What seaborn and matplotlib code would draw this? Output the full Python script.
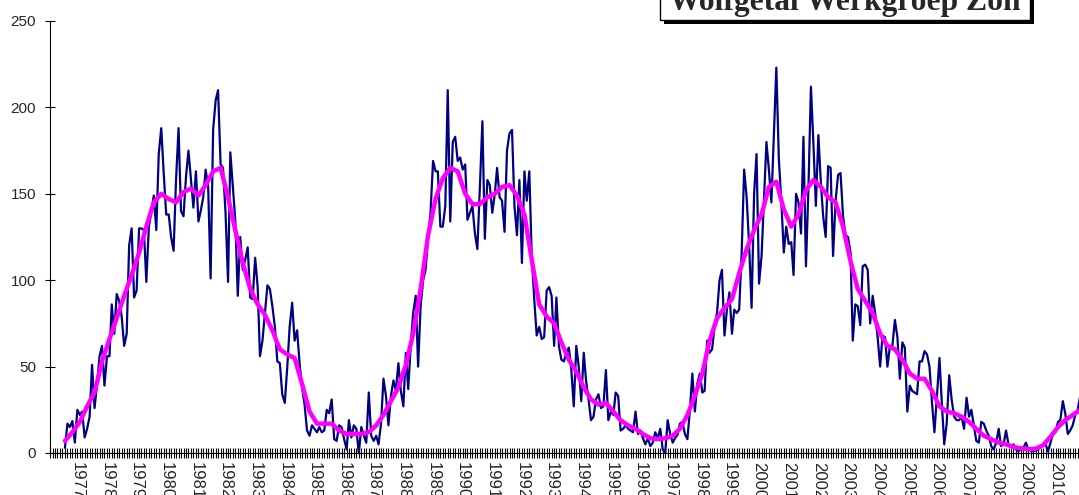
import numpy as np
import pandas as pd
import matplotlib.pyplot as plt
import matplotlib.dates as mdates
from matplotlib.patches import Rectangle
import seaborn as sns

# monthly Wolf numbers, Aug 1976 .. Nov 2010
wolf = [
    3, 17, 15, 18.5, 6, 25, 22, 24, 9, 14, 21, 51, 26, 40, 56, 62, 39, 56, 56, 86,
    69, 92, 88, 79, 62, 69, 120, 130, 90, 94, 130, 130, 129, 99, 131, 139, 149, 129, 173, 188,
    162, 138, 138, 125, 117, 158, 188, 140, 137, 160, 175, 158, 142, 163, 134, 140, 148, 164, 154, 101,
    187, 204, 210, 167, 165, 139,
    99, 174, 154, 135, 91, 125, 106, 112, 119, 90, 89, 113, 96, 56, 65, 81, 97, 95, 85, 73,
    53, 52, 34, 29, 50, 73, 87, 65, 71, 52, 38, 28, 13, 10, 16, 14, 12, 15, 12, 13,
    25, 23, 31, 8, 7, 16, 15, 8, 2, 19, 9, 16, 14, 0, 15, 10, 6, 35, 10, 7,
    10, 5, 17, 43, 33, 16, 33, 42, 36, 52, 36, 27,
    58, 37, 62, 81, 91, 50, 85, 100, 106, 125, 139, 169, 163, 163, 131, 131, 143, 210, 134, 180,
    183, 169, 171, 164, 167, 135, 139, 143, 127, 118, 154, 192, 124, 158, 155, 139, 150, 165, 148, 146,
    128, 175, 185, 187, 143, 126, 158, 110, 163, 146, 163, 114, 89, 68, 73, 66, 67, 94, 96, 91,
    62, 90, 62, 54, 53, 58, 61, 48, 27, 62, 50,
    30, 58, 42, 31, 19, 21, 31, 34, 26, 27, 48, 19, 24, 22, 35, 33, 13, 14, 16, 14,
    13, 12, 24, 11, 13, 8.5, 5, 8.5, 4, 6, 12, 8.5, 14, 2, 0, 19, 11, 6, 8.5, 10.5,
    17, 18, 11, 8, 25, 46, 24, 40, 46, 35, 36, 65, 58, 60, 73, 81, 100, 106, 68, 83,
    93, 69, 83, 81, 83, 116, 164, 148, 120, 84, 150,
    173, 98, 114, 146, 180, 164, 145, 183, 223, 170, 146, 116, 131, 121, 122, 103, 150, 145, 127, 183,
    108, 154, 212, 179, 143, 184, 156, 137, 125, 166, 165, 114, 146, 161, 162, 137, 126, 125, 116, 65,
    86, 85, 74, 108, 109, 106, 75, 91, 81, 67, 50, 68, 67, 50, 62, 62, 77, 67, 43, 64,
    61, 24, 39, 36, 35, 34, 53, 53, 59, 57,
    50, 29, 12, 33, 55, 30, 5, 17, 45, 31, 21, 19, 19, 21, 14, 32, 21, 25, 16, 7,
    6, 18, 17, 13, 10, 4, 2, 6, 14, 4, 5, 13, 5, 4, 5, 2, 1, 2, 3, 6,
    2, 1.4, 1, 1.4, 2, 4, 5, 5, 1, 6, 11, 12, 18, 19, 30, 23, 11, 13, 16, 22,
    25, 33,
]

# smoothed Wolf number, one value every third month
smoothed = [
    7, 12, 18, 27, 35, 53, 66, 78, 91, 103, 116, 131, 145, 150, 147, 145, 151, 153, 149, 155,
    163, 165, 148,
    129, 110, 95, 86, 80, 71, 60, 57, 55, 40, 24, 17, 17, 17, 13, 11, 11, 11, 12, 16,
    22, 30, 38,
    51, 69, 95, 126, 147, 159, 165, 163, 150, 144, 144, 148, 150, 154, 155, 149, 138, 112, 86, 79,
    75, 64, 54, 47,
    38, 31, 28, 29, 24, 19, 16, 14, 11, 8.5, 8, 8.5, 10, 14, 22, 33, 46, 65, 78, 84,
    89, 104, 118, 129,
    138, 154, 157, 141, 131, 138, 152, 158, 154, 148, 145, 131, 111, 95, 88, 81, 69, 62, 60, 54,
    46, 43, 43, 36,
    27, 24, 23, 21, 18, 14, 10, 8, 6, 5, 3.5, 2.7, 2.2, 2.5, 4.5, 9.5, 15, 19, 22, 25,
]

months = pd.date_range('1976-08-01', periods=len(wolf), freq='MS')
df = pd.DataFrame({'date': months, 'wolf': wolf})
sm = pd.DataFrame({'date': months[::3], 'smoothed': smoothed})

sns.set_style('white')
plt.rcParams['font.family'] = ['Liberation Sans', 'DejaVu Sans']

W, H = 1079, 495
fig = plt.figure(figsize=(W / 100, H / 100), dpi=100)
ax = fig.add_axes([50 / W, 42 / H, 1031.4 / W, 432 / H])

sns.lineplot(data=df, x='date', y='wolf', color='#000080', linewidth=1.6, ax=ax)
sns.lineplot(data=sm, x='date', y='smoothed', color='#ff00ff', linewidth=3.2, ax=ax)

ax.set_xlim(pd.Timestamp('1976-01-30'), pd.Timestamp('2010-11-16'))
ax.set_ylim(0, 250)
ax.set_yticks(range(0, 251, 50))
ax.set_xlabel('')
ax.set_ylabel('')

ax.xaxis.set_major_locator(mdates.YearLocator(1, month=1, day=1))
ax.xaxis.set_major_formatter(mdates.DateFormatter('%Y'))
ax.xaxis.set_minor_locator(mdates.MonthLocator())
ax.tick_params(axis='x', which='both', direction='inout', length=7, width=0.8,
               color='black', bottom=True)
ax.tick_params(axis='x', which='major', labelsize=12, labelrotation=-90, pad=3)
ax.tick_params(axis='y', direction='inout', length=7, width=0.8, color='black',
               left=True, labelsize=11, pad=6.5)
for lab in ax.get_xticklabels():
    lab.set_ha('center')
    lab.set_va('top')

sns.despine(ax=ax, top=True, right=True)
for s in ['left', 'bottom']:
    ax.spines[s].set_color('black')
    ax.spines[s].set_linewidth(0.8)

# title box with drop shadow
fig.add_artist(Rectangle((664 / W, (H - 24) / H), 370 / W, 40 / H,
                         transform=fig.transFigure, facecolor='black',
                         edgecolor='none', zorder=5))
fig.add_artist(Rectangle((660 / W, (H - 20) / H), 370 / W, 40 / H,
                         transform=fig.transFigure, facecolor='white',
                         edgecolor='black', linewidth=1, zorder=6))
fig.text(845 / W, (H - 10) / H, 'Wolfgetal Werkgroep Zon', ha='center',
         va='baseline', fontsize=22.7, fontweight='bold',
         family=['Liberation Serif', 'DejaVu Serif'], zorder=7)

fig.savefig('out.png', dpi=100)
